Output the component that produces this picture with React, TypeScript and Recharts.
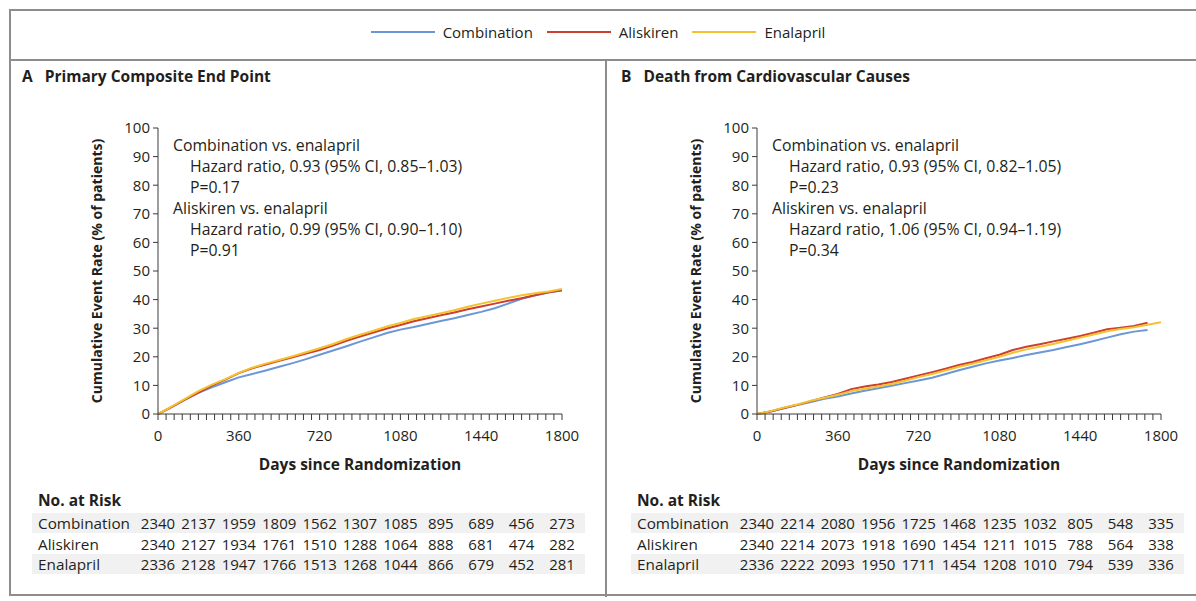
import React from 'react';
import { LineChart, Line, XAxis, YAxis } from 'recharts';

// ---------- data ----------
const days = [0, 60, 120, 180, 240, 300, 360, 420, 480, 540, 600, 660, 720, 780, 840, 900, 960, 1020, 1080, 1140, 1200, 1260, 1320, 1380, 1440, 1500, 1560, 1620, 1680, 1740, 1800];

// Panel A – Primary composite end point (% cumulative)
const aCombination = [0, 2.4, 5.0, 7.4, 9.3, 11.1, 12.8, 14.0, 15.2, 16.5, 17.8, 19.2, 20.7, 22.2, 23.7, 25.3, 26.8, 28.3, 29.5, 30.4, 31.5, 32.5, 33.5, 34.6, 35.7, 37.0, 38.6, 40.3, 41.5, 42.5, 43.2];
const aAliskiren = [0, 2.4, 5.0, 7.5, 9.9, 12.0, 14.3, 16.0, 17.3, 18.6, 19.8, 21.1, 22.4, 23.9, 25.6, 27.1, 28.5, 29.9, 31.1, 32.4, 33.5, 34.5, 35.5, 36.6, 37.6, 38.6, 39.6, 40.5, 41.5, 42.6, 43.3];
const aEnalapril = [0, 2.6, 5.3, 8.0, 10.3, 12.2, 14.4, 16.2, 17.6, 18.9, 20.2, 21.6, 23.0, 24.5, 26.2, 27.7, 29.1, 30.6, 31.8, 33.2, 34.2, 35.2, 36.3, 37.5, 38.6, 39.6, 40.6, 41.5, 42.2, 42.8, 43.7];

// Panel B – Death from cardiovascular causes (% cumulative)
const bCombination = [0, 0.9, 2.0, 3.1, 4.2, 5.3, 6.1, 7.2, 8.1, 9.0, 9.9, 10.8, 11.7, 12.7, 14.0, 15.3, 16.5, 17.7, 18.7, 19.6, 20.6, 21.5, 22.4, 23.4, 24.4, 25.5, 26.7, 27.9, 28.8, 29.4, null];
const bAliskiren = [0, 0.9, 2.1, 3.2, 4.5, 5.8, 7.0, 8.7, 9.6, 10.3, 11.2, 12.3, 13.5, 14.6, 15.8, 17.1, 18.2, 19.5, 20.7, 22.4, 23.5, 24.4, 25.4, 26.3, 27.3, 28.4, 29.6, 30.2, 30.8, 31.9, null];
const bEnalapril = [0, 1.0, 2.3, 3.3, 4.6, 5.7, 6.7, 8.0, 8.8, 9.6, 10.5, 11.6, 12.9, 14.0, 15.2, 16.5, 17.6, 18.8, 20.0, 21.4, 22.6, 23.5, 24.5, 25.6, 26.7, 27.8, 28.9, 29.7, 30.3, 31.2, 32.1];

// Numbers at risk
const riskDays = [0, 180, 360, 540, 720, 900, 1080, 1260, 1440, 1620, 1800];
const riskACombination = [2340, 2137, 1959, 1809, 1562, 1307, 1085, 895, 689, 456, 273];
const riskAAliskiren = [2340, 2127, 1934, 1761, 1510, 1288, 1064, 888, 681, 474, 282];
const riskAEnalapril = [2336, 2128, 1947, 1766, 1513, 1268, 1044, 866, 679, 452, 281];
const riskBCombination = [2340, 2214, 2080, 1956, 1725, 1468, 1235, 1032, 805, 548, 335];
const riskBAliskiren = [2340, 2214, 2073, 1918, 1690, 1454, 1211, 1015, 788, 564, 338];
const riskBEnalapril = [2336, 2222, 2093, 1950, 1711, 1454, 1208, 1010, 794, 539, 336];

// Axis ticks
const xMajorTicks = [0, 360, 720, 1080, 1440, 1800];
const xMinorStep = 36;
const yTicks = [0, 10, 20, 30, 40, 50, 60, 70, 80, 90, 100];

const seriesNames = ['Combination', 'Aliskiren', 'Enalapril'];
const COLORS = ['#6b97d6', '#cd3f2e', '#f2c230'];

// ---------- helpers ----------
const xAllTicks = Array.from({ length: 1800 / xMinorStep + 1 }, (_, i) => i * xMinorStep);
const buildRows = (c: (number | null)[], a: (number | null)[], e: (number | null)[]) =>
  days.map((d, i) => ({ day: d, c: c[i], a: a[i], e: e[i] }));

const TEXT = '#231f20';
const AXIS = '#3a3a3a';
const FONT = '"Open Sans", Lato, sans-serif';

type PanelProps = {
  left: number;
  letter: string;
  title: string;
  rows: any[];
  risk: number[][];
  notes: { head: string; hr: string; p: string }[];
};

function Panel({ left, letter, title, rows, risk, notes }: PanelProps) {
  const riskFmt = (vals: number[]) => (v: number) => {
    const i = riskDays.indexOf(v);
    return i >= 0 ? String(vals[i]) : '';
  };
  return (
    <div style={{ position: 'absolute', left, top: 0, width: 596, height: 601 }}>
      {/* title */}
      <div style={{ position: 'absolute', left: 12, top: 65, fontSize: 15.5, fontWeight: 700, color: TEXT, whiteSpace: 'nowrap' }}>
        <span style={{ marginRight: 12 }}>{letter}</span>
        {title}
      </div>
      {/* risk table background bands */}
      <div style={{ position: 'absolute', left: 22, top: 513, width: 553, height: 20, background: '#f1f1f1' }} />
      <div style={{ position: 'absolute', left: 22, top: 554, width: 553, height: 20, background: '#f1f1f1' }} />
      <div style={{ position: 'absolute', left: 28, top: 489, fontSize: 15.5, fontWeight: 700, color: TEXT }}>No. at Risk</div>
      {seriesNames.map((n, i) => (
        <div key={n} style={{ position: 'absolute', left: 28, top: 513 + i * 20.5, fontSize: 15.3, color: TEXT, lineHeight: '20px' }}>
          {n}
        </div>
      ))}
      {/* chart */}
      <div style={{ position: 'absolute', left: 0, top: 100 }}>
        <LineChart width={590} height={482} data={rows} margin={{ top: 28, right: 38, bottom: 13, left: 26 }}>
          <XAxis
            xAxisId="main"
            dataKey="day"
            type="number"
            domain={[0, 1800]}
            allowDataOverflow
            ticks={xAllTicks}
            interval={0}
            tickFormatter={(v: number) => (xMajorTicks.includes(v) ? String(v) : '')}
            tickSize={6}
            tickMargin={10}
            height={84}
            stroke={AXIS}
            tick={{ fontSize: 15, fill: TEXT }}
            label={{ value: 'Days since Randomization', position: 'insideBottom', offset: 28, fill: TEXT, fontSize: 15.5, fontWeight: 700 }}
          />
          {risk.map((vals, i) => (
            <XAxis
              key={i}
              xAxisId={'r' + i}
              dataKey="day"
              type="number"
              domain={[0, 1800]}
              allowDataOverflow
              ticks={riskDays}
              interval={0}
              tickFormatter={riskFmt(vals)}
              axisLine={false}
              tickLine={false}
              tickSize={0}
              tickMargin={20}
              height={i === 0 ? 21 : i === 1 ? 20 : 30}
              tick={{ fontSize: 15, fill: TEXT }}
            />
          ))}
          <YAxis
            type="number"
            domain={[0, 100]}
            ticks={yTicks}
            interval={0}
            width={122}
            tickSize={5}
            tickMargin={3}
            stroke={AXIS}
            tick={{ fontSize: 15, fill: TEXT }}
            label={{ value: 'Cumulative Event Rate (% of patients)', angle: -90, position: 'center', fill: TEXT, fontSize: 14, fontWeight: 700 }}
          />
          <Line xAxisId="main" dataKey="c" stroke={COLORS[0]} strokeWidth={2} dot={false} isAnimationActive={false} type="linear" />
          <Line xAxisId="main" dataKey="a" stroke={COLORS[1]} strokeWidth={2} dot={false} isAnimationActive={false} type="linear" />
          <Line xAxisId="main" dataKey="e" stroke={COLORS[2]} strokeWidth={2} dot={false} isAnimationActive={false} type="linear" />
        </LineChart>
      </div>
      {/* annotations */}
      <div style={{ position: 'absolute', left: 163, top: 135, fontSize: 15.8, lineHeight: '21px', color: TEXT, whiteSpace: 'nowrap' }}>
        {notes.map((n, i) => (
          <div key={i}>
            <div>{n.head}</div>
            <div style={{ paddingLeft: 17 }}>{n.hr}</div>
            <div style={{ paddingLeft: 17 }}>{n.p}</div>
          </div>
        ))}
      </div>
    </div>
  );
}

export default function App() {
  const rowsA = buildRows(aCombination, aAliskiren, aEnalapril);
  const rowsB = buildRows(bCombination, bAliskiren, bEnalapril);
  return (
    <div style={{ position: 'fixed', left: 0, top: 0, width: 1196, height: 601, background: '#fff', fontFamily: FONT, overflow: 'hidden' }}>
      {/* frame */}
      <div style={{ position: 'absolute', left: 9, top: 9, width: 1200, height: 587, border: '2px solid #8d8d8d', boxSizing: 'border-box' }} />
      <div style={{ position: 'absolute', left: 9, top: 59, width: 1200, height: 2, background: '#8d8d8d' }} />
      <div style={{ position: 'absolute', left: 605, top: 60, width: 2, height: 537, background: '#8d8d8d' }} />
      {/* legend */}
      <div style={{ position: 'absolute', left: 9, top: 21, width: 1192, height: 22, display: 'flex', justifyContent: 'center', alignItems: 'center', fontSize: 15, color: TEXT }}>
        {seriesNames.map((n, i) => (
          <div key={n} style={{ display: 'flex', alignItems: 'center', marginRight: 14 }}>
            <span style={{ display: 'inline-block', width: 64, height: 2, background: COLORS[i], marginRight: 8 }} />
            <span>{n}</span>
          </div>
        ))}
      </div>
      <Panel
        left={10}
        letter="A"
        title="Primary Composite End Point"
        rows={rowsA}
        risk={[riskACombination, riskAAliskiren, riskAEnalapril]}
        notes={[
          { head: 'Combination vs. enalapril', hr: 'Hazard ratio, 0.93 (95% CI, 0.85–1.03)', p: 'P=0.17' },
          { head: 'Aliskiren vs. enalapril', hr: 'Hazard ratio, 0.99 (95% CI, 0.90–1.10)', p: 'P=0.91' },
        ]}
      />
      <Panel
        left={609}
        letter="B"
        title="Death from Cardiovascular Causes"
        rows={rowsB}
        risk={[riskBCombination, riskBAliskiren, riskBEnalapril]}
        notes={[
          { head: 'Combination vs. enalapril', hr: 'Hazard ratio, 0.93 (95% CI, 0.82–1.05)', p: 'P=0.23' },
          { head: 'Aliskiren vs. enalapril', hr: 'Hazard ratio, 1.06 (95% CI, 0.94–1.19)', p: 'P=0.34' },
        ]}
      />
    </div>
  );
}
